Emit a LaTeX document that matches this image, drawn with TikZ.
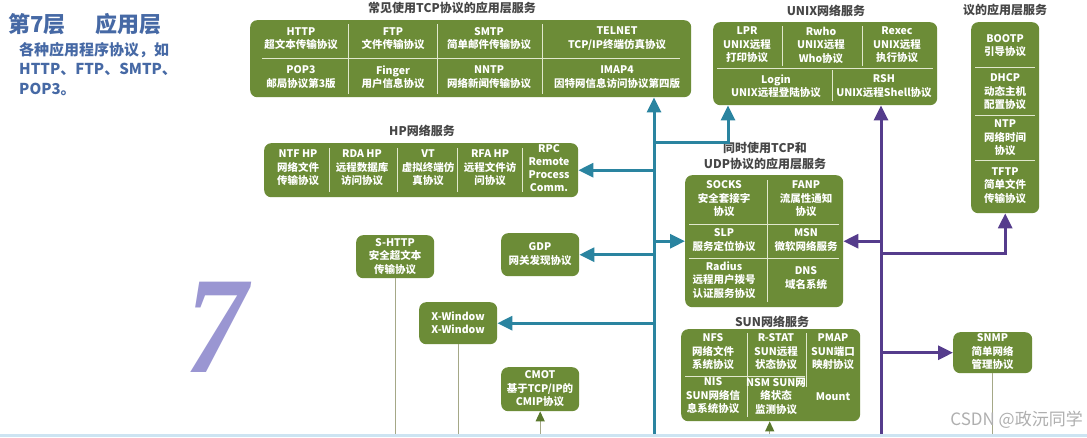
\documentclass[tikz,border=0pt]{standalone}
\usepackage{fontspec}
\setmainfont{Noto Sans CJK SC}
\newfontfamily\sevenfont{Liberation Serif}
\usetikzlibrary{arrows.meta}
\definecolor{boxgreen}{RGB}{108,140,55}
\definecolor{headblue}{RGB}{70,105,165}
\definecolor{ttlgray}{RGB}{70,70,70}
\definecolor{tealc}{RGB}{42,132,160}
\definecolor{purpc}{RGB}{85,60,140}
\definecolor{olivel}{RGB}{165,168,135}
\definecolor{olivea}{RGB}{90,120,45}
\definecolor{sevenc}{RGB}{154,150,210}
\definecolor{divc}{RGB}{225,232,205}
\definecolor{bandc}{RGB}{205,228,242}
\definecolor{wmc}{RGB}{175,175,175}
\tikzset{
  gbox/.style={fill=boxgreen, draw=none, rounded corners=7pt, anchor=north west, inner sep=0pt},
  cell/.style={text=white, font=\bfseries\fontsize{10.5}{13.5}\selectfont, align=center, inner sep=0pt},
  ttl/.style={text=ttlgray, font=\bfseries\fontsize{12}{16}\selectfont, align=center, inner sep=0pt},
  head/.style={text=headblue, font=\bfseries\fontsize{22}{26}\selectfont, inner sep=0pt},
  subh/.style={text=headblue, font=\bfseries\fontsize{15}{19.5}\selectfont, inner sep=0pt},
  divl/.style={draw=divc, line width=1pt},
  tarrow/.style={draw=tealc, line width=3pt, -{Triangle[length=15pt,width=14pt]}},
  parrow/.style={draw=purpc, line width=3pt, -{Triangle[length=15pt,width=14pt]}},
  thinl/.style={draw=olivel, line width=1.3pt},
  garrow/.style={draw=olivel, line width=1.3pt, -{Triangle[length=10pt,width=9pt,color=olivea,fill=olivea]}},
}
\begin{document}
\begin{tikzpicture}[x=1pt,y=-1pt]
\useasboundingbox (0,0) rectangle (1087,437);
\fill[white] (0,0) rectangle (1087,437);

% heading
\node[head, anchor=west] (h1) at (8,24) {第7层};
\node[head, anchor=west] (h2) at (95,24) {应用层};
\node[subh, anchor=north west, align=left] (h3) at (19,42) {各种应用程序协议，如\\HTTP、FTP、SMTP、\\POP3。};
\node[text=sevenc, font=\sevenfont\bfseries\itshape\fontsize{138}{138}\selectfont, inner sep=0pt, anchor=base, xscale=0.9] (seven) at (217,372) {7};

% ---------- TCP box
\node[ttl] (t-tcp) at (452,8) {常见使用TCP协议的应用层服务};
\node[gbox, minimum width=441pt, minimum height=77pt] (tcp) at (250,20) {};
\draw[divl] (262,58) -- (680,58);
\draw[divl] (348,24) -- (348,94);
\draw[divl] (437,24) -- (437,94);
\draw[divl] (542,24) -- (542,94);
\node[cell] (c-http) at (301,38.5) {HTTP\\超文本传输协议};
\node[cell] (c-ftp) at (393,38.5) {FTP\\文件传输协议};
\node[cell] (c-smtp) at (489,38.5) {SMTP\\简单邮件传输协议};
\node[cell] (c-telnet) at (617,38.5) {TELNET\\TCP/IP终端仿真协议};
\node[cell] (c-pop) at (301,77) {POP3\\邮局协议第3版};
\node[cell] (c-finger) at (393,77) {Finger\\用户信息协议};
\node[cell] (c-nntp) at (489,77) {NNTP\\网络新闻传输协议};
\node[cell] (c-imap) at (617,77) {IMAP4\\因特网信息访问协议第四版};

% ---------- UNIX box
\node[ttl] (t-unix) at (826,11) {UNIX网络服务};
\node[gbox, minimum width=224pt, minimum height=83pt] (unix) at (713,22) {};
\draw[divl] (717,68) -- (933,68);
\draw[divl] (782,26) -- (782,66);
\draw[divl] (862,26) -- (862,66);
\draw[divl] (832,70) -- (832,101);
\node[cell] (c-lpr) at (747,45) {LPR\\UNIX远程\\打印协议};
\node[cell] (c-rwho) at (821,45) {Rwho\\UNIX远程\\Who协议};
\node[cell] (c-rexec) at (897,45) {Rexec\\UNIX远程\\执行协议};
\node[cell] (c-login) at (776,86) {Login\\UNIX远程登陆协议};
\node[cell] (c-rsh) at (884,86) {RSH\\UNIX远程Shell协议};

% ---------- right column
\node[ttl] (t-rc) at (1005,10) {议的应用层服务};
\node[gbox, minimum width=68pt, minimum height=191pt] (rc) at (971,22) {};
\draw[divl] (975,67) -- (1035,67);
\draw[divl] (975,115) -- (1035,115);
\draw[divl] (975,160) -- (1035,160);
\node[cell] (c-bootp) at (1005,45.5) {BOOTP\\引导协议};
\node[cell] (c-dhcp) at (1005,92) {DHCP\\动态主机\\配置协议};
\node[cell] (c-ntp) at (1005,138) {NTP\\网络时间\\协议};
\node[cell] (c-tftp) at (1005,185.5) {TFTP\\简单文件\\传输协议};

% ---------- HP box
\node[ttl] (t-hp) at (422,131) {HP网络服务};
\node[gbox, minimum width=314pt, minimum height=54pt] (hp) at (264,143) {};
\draw[divl] (329,148) -- (329,192);
\draw[divl] (397,148) -- (397,192);
\draw[divl] (457,148) -- (457,192);
\draw[divl] (522,148) -- (522,192);
\node[cell] (c-ntf) at (298,168) {NTF HP\\网络文件\\传输协议};
\node[cell] (c-rda) at (362,168) {RDA HP\\远程数据库\\访问协议};
\node[cell] (c-vt) at (428,168) {VT\\虚拟终端仿\\真协议};
\node[cell] (c-rfa) at (490,168) {RFA HP\\远程文件访\\问协议};
\node[cell, font=\bfseries\fontsize{10.5}{13}\selectfont] (c-rpc) at (549,168) {RPC\\Remote\\Process\\Comm.};

% ---------- TCP/UDP box
\node[ttl] (t-tu) at (765,156) {同时使用TCP和\\UDP协议的应用层服务};
\node[gbox, minimum width=158pt, minimum height=132pt] (tu) at (685,175) {};
\draw[divl] (767,180) -- (767,302);
\draw[divl] (689,224) -- (839,224);
\draw[divl] (689,258) -- (839,258);
\node[cell] (c-socks) at (724,199) {SOCKS\\安全套接字\\协议};
\node[cell] (c-fanp) at (806,199) {FANP\\流属性通知\\协议};
\node[cell] (c-slp) at (724,240) {SLP\\服务定位协议};
\node[cell] (c-msn) at (806,240) {MSN\\微软网络服务};
\node[cell] (c-radius) at (724,280) {Radius\\远程用户拨号\\认证服务协议};
\node[cell] (c-dns) at (806,278) {DNS\\域名系统};

% ---------- small boxes
\node[gbox, minimum width=78pt, minimum height=43pt] (gdp) at (501,233) {};
\node[cell] (c-gdp) at (540,254) {GDP\\网关发现协议};
\node[gbox, minimum width=78pt, minimum height=43pt] (shttp) at (356,235) {};
\node[cell] (c-shttp) at (395,256.5) {S-HTTP\\安全超文本\\传输协议};
\node[gbox, minimum width=78pt, minimum height=42pt] (xw) at (419,302) {};
\node[cell] (c-xw) at (458,322.5) {X-Window\\X-Window};
\node[gbox, minimum width=78pt, minimum height=44pt] (cmot) at (501,367) {};
\node[cell] (c-cmot) at (540,389) {CMOT\\基于TCP/IP的\\CMIP协议};
\node[gbox, minimum width=79pt, minimum height=41pt] (snmp) at (953,332) {};
\node[cell] (c-snmp) at (992.5,352) {SNMP\\简单网络\\管理协议};

% ---------- SUN box
\node[ttl] (t-sun) at (772,322) {SUN网络服务};
\node[gbox, minimum width=179pt, minimum height=92pt] (sun) at (681,329) {};
\draw[divl] (747,333) -- (747,417);
\draw[divl] (806,333) -- (806,387);
\draw[divl] (685,376) -- (805,376);
\node[cell] (c-nfs) at (713,352) {NFS\\网络文件\\系统协议};
\node[cell] (c-rstat) at (776,352) {R-STAT\\SUN远程\\状态协议};
\node[cell] (c-pmap) at (833,352) {PMAP\\SUN端口\\映射协议};
\node[cell] (c-nis) at (713,396) {NIS\\SUN网络信\\息系统协议};
\node[cell] (c-nsm) at (776,396) {NSM SUN网\\络状态\\监测协议};
\node[cell] (c-mount) at (833,397) {Mount};

% ---------- connectors
\coordinate (tb) at (654,437);
\coordinate (tbr) at (654,142);
\coordinate (pb) at (881,437);
\coordinate (pbr) at (881,253);

\draw[tarrow] (tb) -- (tb |- tcp.south);
\draw[tarrow] (tbr) -| ([xshift=15pt]unix.south west);
\draw[tarrow] (tb |- hp.east) -- (hp.east);
\draw[tarrow] (tb |- gdp.east) -- (gdp.east);
\draw[tarrow] (tb |- xw.east) -- (xw.east);
\draw[tarrow] (tb |- tu.west) -- (tu.west);

\draw[parrow] (pb) -- (pb |- unix.south);
\draw[parrow] (pb |- tu.east) -- (tu.east);
\draw[parrow] (pbr) -| (rc.south);
\draw[parrow] (pb |- snmp.west) -- (snmp.west);

\draw[thinl] (shttp.south) -- (shttp.south |- tb);
\draw[thinl] (xw.south) -- (xw.south |- tb);
\draw[thinl] (snmp.south) -- (snmp.south |- tb);
\draw[garrow] (cmot.south |- tb) -- (cmot.south);
\draw[garrow] ([xshift=-1pt]sun.south |- tb) -- ([xshift=-1pt]sun.south);

% watermark and bottom band
\node[text=wmc, font=\fontsize{17}{20}\selectfont, inner sep=0pt, anchor=east] (wm) at (1083,420) {CSDN @政沅同学};
\fill[bandc] (0,434) rectangle (1087,437);
\end{tikzpicture}
\end{document}
